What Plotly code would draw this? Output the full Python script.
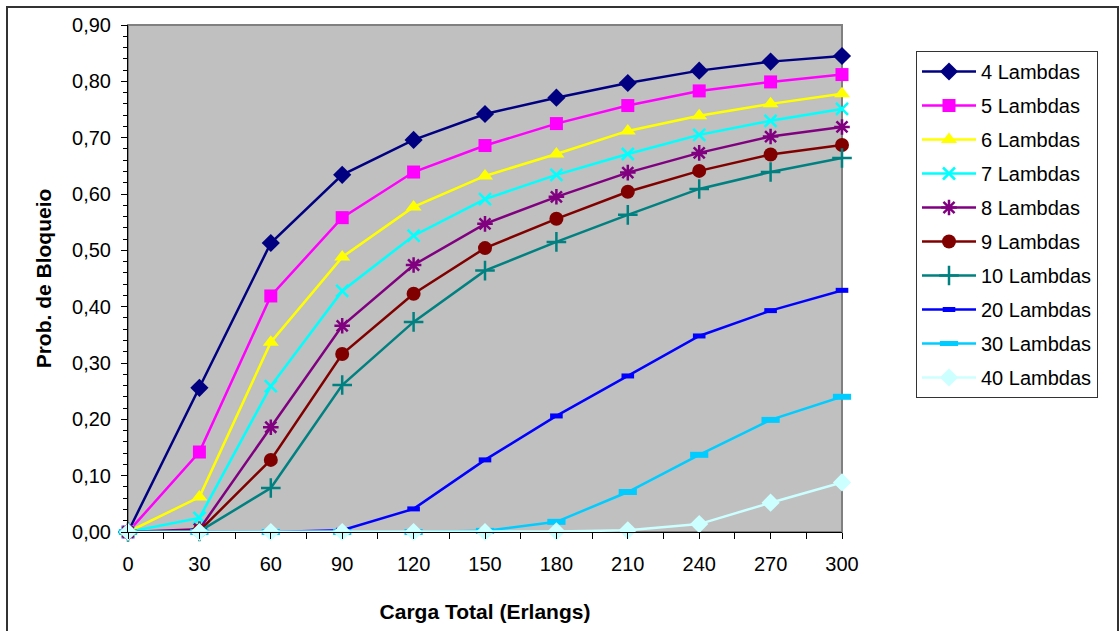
import plotly.graph_objects as go

# Offered load (Erlangs)
carga = [0, 30, 60, 90, 120, 150, 180, 210, 240, 270, 300]

# Blocking probability per number of wavelengths
p4 = [0.000, 0.256, 0.513, 0.634, 0.696, 0.742, 0.771, 0.797, 0.819, 0.835, 0.845]
p5 = [0.000, 0.142, 0.419, 0.558, 0.639, 0.686, 0.725, 0.757, 0.783, 0.799, 0.812]
p6 = [0.000, 0.062, 0.337, 0.488, 0.577, 0.632, 0.671, 0.712, 0.739, 0.760, 0.778]
p7 = [0.000, 0.025, 0.259, 0.428, 0.526, 0.591, 0.634, 0.671, 0.705, 0.730, 0.751]
p8 = [0.000, 0.005, 0.186, 0.366, 0.474, 0.547, 0.595, 0.638, 0.673, 0.702, 0.719]
p9 = [0.000, 0.002, 0.128, 0.316, 0.423, 0.504, 0.556, 0.604, 0.641, 0.670, 0.687]
p10 = [0.000, 0.001, 0.078, 0.261, 0.373, 0.464, 0.515, 0.563, 0.609, 0.639, 0.664]
p20 = [0.000, 0.000, 0.000, 0.003, 0.041, 0.128, 0.206, 0.277, 0.348, 0.393, 0.429]
p30 = [0.000, 0.000, 0.000, 0.000, 0.000, 0.002, 0.018, 0.071, 0.137, 0.199, 0.240]
p40 = [0.000, 0.000, 0.000, 0.000, 0.000, 0.000, 0.001, 0.003, 0.014, 0.052, 0.088]

y_ticks = [0.0, 0.1, 0.2, 0.3, 0.4, 0.5, 0.6, 0.7, 0.8, 0.9]

series = [
    ("4 Lambdas", p4, "#000080", "diamond", 14, 0),
    ("5 Lambdas", p5, "#FF00FF", "square", 13, 0),
    ("6 Lambdas", p6, "#FFFF00", "triangle-up", 14, 0),
    ("7 Lambdas", p7, "#00FFFF", "x-thin", 12, 2.5),
    ("8 Lambdas", p8, "#800080", "asterisk", 13, 2.5),
    ("9 Lambdas", p9, "#800000", "circle", 14, 0),
    ("10 Lambdas", p10, "#008080", "cross-thin", 14, 2.5),
    ("20 Lambdas", p20, "#0000FF", "line-ew", 9, 5),
    ("30 Lambdas", p30, "#00CCFF", "line-ew", 13, 6),
    ("40 Lambdas", p40, "#CCFFFF", "diamond", 14, 0),
]

FONT = "Arial, Liberation Sans, sans-serif"

fig = go.Figure()
for name, vals, color, symbol, size, lw in series:
    fig.add_trace(go.Scatter(
        x=carga, y=vals, name=name, legendgroup=name, mode="lines+markers",
        line=dict(color=color, width=2.5),
        marker=dict(symbol=symbol, size=size, color=color,
                    line=dict(color=color, width=lw)),
        cliponaxis=False,
    ))

fig.update_layout(
    width=1120, height=631,
    margin=dict(l=128, r=278, t=25, b=99),
    paper_bgcolor="white",
    plot_bgcolor="#C0C0C0",
    separators=",.",
    font=dict(family=FONT, size=20, color="black"),
    showlegend=True,
    legend=dict(
        x=(916 - 128) / 714, y=1 - (51 - 25) / 507, xanchor="left", yanchor="top",
        bordercolor="#333333", borderwidth=1, bgcolor="white",
        font=dict(size=20), itemwidth=54, tracegroupgap=5,
    ),
    xaxis=dict(
        range=[0, 300], tickmode="array", tickvals=carga,
        ticktext=[str(c) for c in carga],
        ticks="outside", ticklen=6, tickcolor="black",
        ticklabelstandoff=8,
        showgrid=False, zeroline=False,
        showline=True, linecolor="black", linewidth=1,
        minor=dict(ticks="outside", ticklen=6, dtick=15, tick0=0, tickcolor="black"),
        title=dict(text="<b>Carga Total (Erlangs)</b>", font=dict(size=21), standoff=30),
    ),
    yaxis=dict(
        range=[0, 0.9], tickmode="array", tickvals=y_ticks,
        tickformat=".2f",
        ticks="outside", ticklen=6, tickcolor="black",
        ticklabelstandoff=6,
        showgrid=False, zeroline=False,
        showline=True, linecolor="black", linewidth=1,
        minor=dict(ticks="outside", ticklen=4, dtick=0.02, tick0=0, tickcolor="black"),
        title=dict(text="<b>Prob. de Bloqueio</b>", font=dict(size=21), standoff=14),
    ),
)

# Plot-area frame (top and right edges)
fig.add_shape(type="rect", xref="paper", yref="paper", x0=0, y0=0, x1=1, y1=1,
              line=dict(color="#808080", width=2), layer="below")
# Outer chart border
fig.add_shape(type="rect", xref="paper", yref="paper",
              x0=(7 - 128) / 714, x1=(1118 - 128) / 714,
              y0=-(645 - 532) / 507, y1=1 + (25 - 7) / 507,
              line=dict(color="#333333", width=2))

fig.write_html("out.html")
